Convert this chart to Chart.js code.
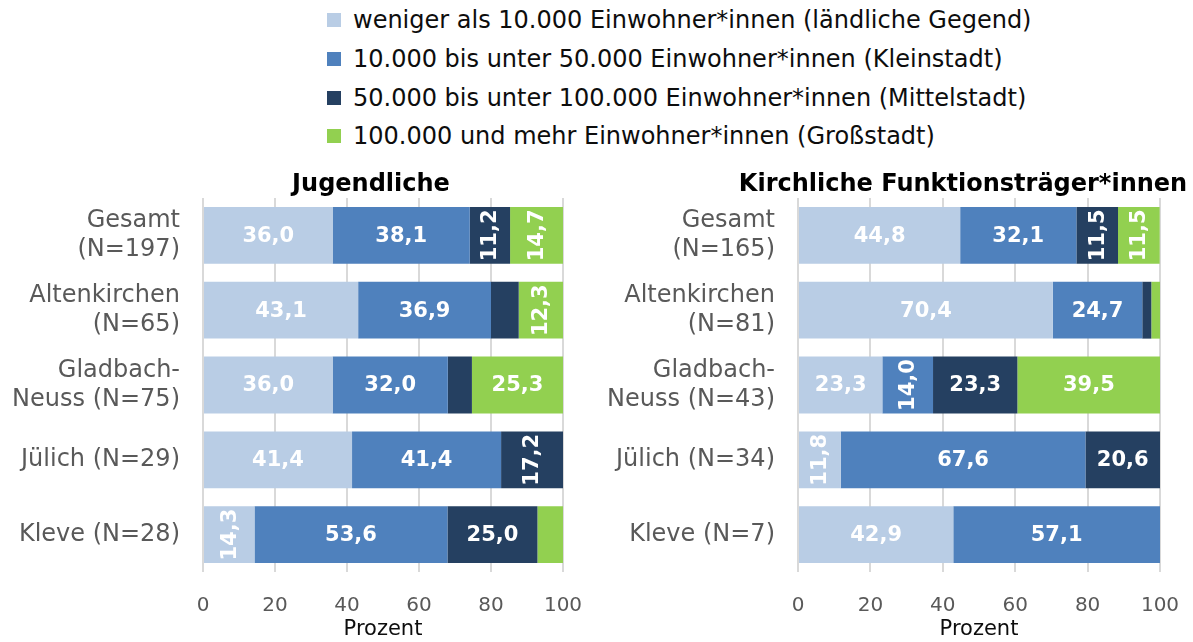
<!DOCTYPE html>
<html><head><meta charset="utf-8">
<script src="https://cdn.jsdelivr.net/npm/chart.js@4.4.0/dist/chart.umd.min.js"></script>
<style>
body{margin:0;width:1193px;height:642px;background:#fff;overflow:hidden;font-family:"DejaVu Sans",Verdana,sans-serif;}
#legend{position:absolute;left:327px;top:1px;}
.li{display:flex;align-items:center;height:38.7px;font-size:24px;color:#0d0d0d;white-space:nowrap;}
.sw{width:14px;height:14px;margin-right:12px;flex:none;}
#w1{position:absolute;left:0;top:160px;width:596px;height:482px;}
#w2{position:absolute;left:596px;top:160px;width:597px;height:482px;}
</style></head>
<body>
<div id="legend"></div>
<div id="w1"><canvas id="c1"></canvas></div>
<div id="w2"><canvas id="c2"></canvas></div>
<script>
const seriesNames = [
  "weniger als 10.000 Einwohner*innen (ländliche Gegend)",
  "10.000 bis unter 50.000 Einwohner*innen (Kleinstadt)",
  "50.000 bis unter 100.000 Einwohner*innen (Mittelstadt)",
  "100.000 und mehr Einwohner*innen (Großstadt)"
];
const seriesColors = ["#B9CDE5", "#4F81BD", "#254061", "#92D050"];

const titleJ = "Jugendliche";
const categoriesJ = [["Gesamt","(N=197)"],["Altenkirchen","(N=65)"],["Gladbach-","Neuss (N=75)"],"Jülich (N=29)","Kleve (N=28)"];
const jLaendlich = [36.0, 43.1, 36.0, 41.4, 14.3];
const jKlein     = [38.1, 36.9, 32.0, 41.4, 53.6];
const jMittel    = [11.2,  7.7,  6.7, 17.2, 25.0];
const jGross     = [14.7, 12.3, 25.3,  0.0,  7.1];

const titleK = "Kirchliche Funktionsträger*innen";
const categoriesK = [["Gesamt","(N=165)"],["Altenkirchen","(N=81)"],["Gladbach-","Neuss (N=43)"],"Jülich (N=34)","Kleve (N=7)"];
const kLaendlich = [44.8, 70.4, 23.3, 11.8, 42.9];
const kKlein     = [32.1, 24.7, 14.0, 67.6, 57.1];
const kMittel    = [11.5,  2.5, 23.3, 20.6,  0.0];
const kGross     = [11.5,  2.5, 39.5,  0.0,  0.0];

const xTicks = [0, 20, 40, 60, 80, 100];
const xTitle = "Prozent";

const FONT = '"DejaVu Sans", Verdana, sans-serif';

// legend
const lg = document.getElementById('legend');
seriesNames.forEach((n,i)=>{
  const d=document.createElement('div'); d.className='li';
  const s=document.createElement('span'); s.className='sw'; s.style.background=seriesColors[i];
  const t=document.createElement('span'); t.textContent=n;
  d.appendChild(s); d.appendChild(t); lg.appendChild(d);
});

const barLabels = {
  id:'barLabels',
  afterDatasetsDraw(chart){
    const ctx=chart.ctx;
    chart.data.datasets.forEach((ds,di)=>{
      const meta=chart.getDatasetMeta(di);
      meta.data.forEach((bar,i)=>{
        const v=ds.data[i];
        if(!v || v<10) return;
        const txt=v.toFixed(1).replace('.',',');
        const p=bar.getProps(['x','y','base'],true);
        const cx=(p.x+p.base)/2;
        ctx.save();
        ctx.font='bold 21px '+FONT;
        ctx.fillStyle='#ffffff';
        ctx.textAlign='center'; ctx.textBaseline='middle';
        if(v<20){ ctx.translate(cx+1,p.y); ctx.rotate(-Math.PI/2); ctx.fillText(txt,0,0); }
        else ctx.fillText(txt,cx,p.y+1);
        ctx.restore();
      });
    });
  }
};
const panelTitle = {
  id:'panelTitle',
  afterDraw(chart,args,opts){
    const ctx=chart.ctx; ctx.save();
    ctx.font='bold 24px '+FONT; ctx.fillStyle='#000'; ctx.textAlign='center'; ctx.textBaseline='middle';
    ctx.fillText(opts.text, opts.x, opts.y); ctx.restore();
  }
};

function makeChart(id, cats, series, title, titleX, yWidth){
  return new Chart(document.getElementById(id), {
    type:'bar',
    data:{ labels:cats, datasets: series.map((d,i)=>({label:seriesNames[i], data:d, backgroundColor:seriesColors[i], borderWidth:0, barPercentage:0.76, categoryPercentage:1})) },
    options:{
      indexAxis:'y', responsive:true, maintainAspectRatio:false, animation:false,
      layout:{padding:{left:0,right:33,top:38,bottom:0}},
      plugins:{legend:{display:false}, tooltip:{enabled:false}, panelTitle:{text:title,x:titleX,y:25}},
      scales:{
        x:{stacked:true, min:0, max:100,
          afterBuildTicks(s){ s.ticks = xTicks.map(v=>({value:v})); },
          ticks:{color:'#595959', font:{size:20, family:FONT}, padding:22},
          grid:{color:'#D9D9D9', lineWidth:2, drawTicks:false}, border:{display:false},
          title:{display:true, text:xTitle, color:'#0d0d0d', font:{size:21, family:FONT}, padding:0},
          afterFit(s){ s.height=70; s.paddingLeft=0; s.paddingRight=0; }
        },
        y:{stacked:true, grid:{display:false, drawTicks:false}, border:{display:false},
          ticks:{color:'#595959', font:{size:24, family:FONT, lineHeight:1.2}, padding:23},
          afterFit(s){ s.width = yWidth; s.paddingTop=0; s.paddingBottom=0; }
        }
      }
    },
    plugins:[barLabels, panelTitle]
  });
}
makeChart('c1', categoriesJ, [jLaendlich, jKlein, jMittel, jGross], titleJ, 371, 203);
makeChart('c2', categoriesK, [kLaendlich, kKlein, kMittel, kGross], titleK, 367, 202);
</script>
</body></html>
